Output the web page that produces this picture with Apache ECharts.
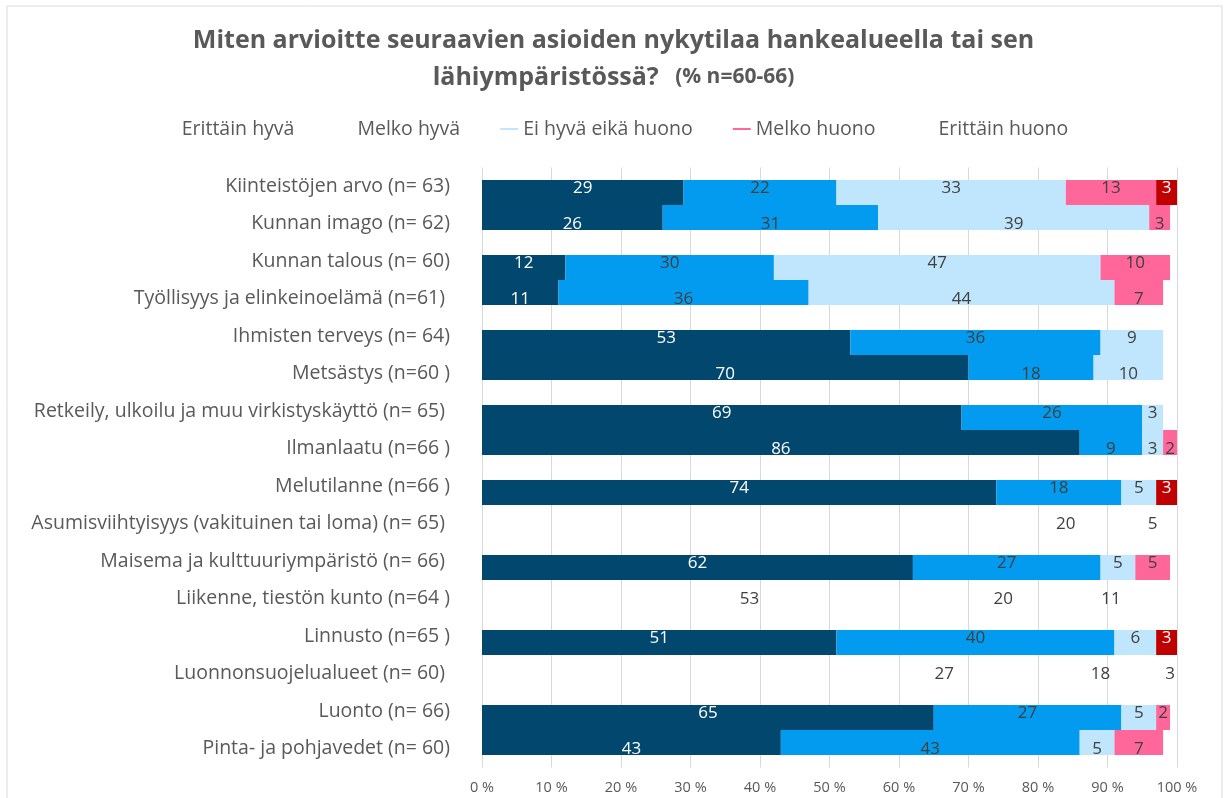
<!DOCTYPE html>
<html>
<head>
<meta charset="utf-8">
<script src="https://cdn.jsdelivr.net/npm/echarts@6/dist/echarts.min.js"></script>
<style>
html, body { margin: 0; padding: 0; background: #fff; }
#chart { width: 1227px; height: 798px; }
</style>
</head>
<body>
<div id="chart"></div>
<script>
'use strict'

var categories = [
	'Kiinteistöjen arvo (n= 63)',
	'Kunnan imago (n= 62)',
	'Kunnan talous (n= 60)',
	'Työllisyys ja elinkeinoelämä (n=61) ',
	'Ihmisten terveys (n= 64)',
	'Metsästys (n=60 )',
	'Retkeily, ulkoilu ja muu virkistyskäyttö (n= 65) ',
	'Ilmanlaatu (n=66 )',
	'Melutilanne (n=66 )',
	'Asumisviihtyisyys (vakituinen tai loma) (n= 65) ',
	'Maisema ja kulttuuriympäristö (n= 66) ',
	'Liikenne, tiestön kunto (n=64 )',
	'Linnusto (n=65 )',
	'Luonnonsuojelualueet (n= 60) ',
	'Luonto (n= 66)',
	'Pinta- ja pohjavedet (n= 60)'
]
var levels = ['Erittäin hyvä', 'Melko hyvä', 'Ei hyvä eikä huono', 'Melko huono', 'Erittäin huono']

var erittainHyva    = [29, 26, 12, 11, 53, 70, 69, 86, 74, 74, 62, 12, 51, 53, 65, 43]
var melkoHyva       = [22, 31, 30, 36, 36, 18, 26, 9, 18, 20, 27, 53, 40, 27, 27, 43]
var eiHyvaEikaHuono = [33, 39, 47, 44, 9, 10, 3, 3, 5, 5, 5, 20, 6, 18, 5, 5]
var melkoHuono      = [13, 3, 10, 7, null, null, null, 2, null, null, 5, 11, null, 3, 2, 7]
var erittainHuono   = [3, null, null, null, null, null, null, null, 3, null, null, null, 3, null, null, null]

// rows that show only their numbers, no bar (as in the original picture)
var ghostRows = [9, 11, 13]

var xMin = 0, xMax = 100, xStep = 10

var values = [erittainHyva, melkoHyva, eiHyvaEikaHuono, melkoHuono, erittainHuono]
var colors = ['#01476E', '#029BEF', '#BFE6FC', '#FF6699', '#C00000']
var labelColors = ['#ffffff', '#404040', '#404040', '#404040', '#ffffff']
var hiddenIcons = [0, 1, 4]

// two rows share one slot: upper bar + lower bar
var pairs = categories.filter(function(c, i){ return i % 2 === 0 })

var series = []
levels.forEach(function(name, li){
	['upper', 'lower'].forEach(function(stack, half){
		var data = values[li].filter(function(v, i){ return i % 2 === half }).map(function(v, k){
			var row = k * 2 + half
			if (ghostRows.indexOf(row) >= 0) {
				return { value: v, itemStyle: { color: 'rgba(0,0,0,0)' } }
			}
			return v
		})
		series.push({
			name: name,
			type: 'bar',
			stack: stack,
			yAxisIndex: 0,
			barWidth: 25,
			barGap: '0%',
			itemStyle: { color: colors[li] },
			label: {
				show: true,
				position: 'inside',
				color: labelColors[li],
				fontSize: 17,
				fontFamily: 'Open Sans',
				offset: [0, half ? 7 : -4],
				formatter: function(p){ return p.value == null ? '' : p.value }
			},
			data: data
		})
	})
})

var myChart = echarts.init(document.getElementById('chart'))
var option = {
	animation: false,
	title: {
		text: '{a|Miten arvioitte seuraavien asioiden nykytilaa hankealueella tai sen}\n{a|lähiympäristössä?}{b|   (% n=60-66)}',
		left: 'center',
		top: 17,
		textStyle: {
			rich: {
				a: { fontSize: 25, fontWeight: 'bold', color: '#595959', fontFamily: 'Open Sans', lineHeight: 37 },
				b: { fontSize: 21, color: '#595959', fontFamily: 'Open Sans', lineHeight: 37 }
			}
		}
	},
	legend: {
		top: 114,
		left: 'center',
		icon: 'rect',
		itemWidth: 18,
		itemHeight: 2,
		itemGap: 40,
		textStyle: { fontSize: 19.5, color: '#595959', fontFamily: 'Open Sans' },
		data: levels.map(function(n, i){
			var item = { name: n }
			if (hiddenIcons.indexOf(i) >= 0) item.itemStyle = { color: 'rgba(0,0,0,0)' }
			return item
		})
	},
	grid: { left: 482, right: 50, top: 167.5, height: 600, containLabel: false },
	xAxis: {
		type: 'value',
		min: xMin,
		max: xMax,
		interval: xStep,
		axisLine: { show: false },
		axisTick: { show: false },
		splitLine: { lineStyle: { color: '#d9d9d9' } },
		axisLabel: { formatter: '{value} %', color: '#595959', fontSize: 14.5, fontFamily: 'Open Sans', margin: 13 }
	},
	yAxis: [
		{ type: 'category', data: pairs, inverse: true, show: false },
		{
			type: 'category',
			data: categories,
			inverse: true,
			position: 'left',
			axisLine: { show: false },
			axisTick: { show: false },
			axisLabel: { margin: 32, fontSize: 19.5, color: '#595959', fontFamily: 'Open Sans' }
		}
	],
	graphic: [{
		type: 'rect',
		silent: true,
		z: -10,
		shape: { x: 7, y: 6, width: 1215, height: 800 },
		style: { fill: 'none', stroke: '#d9d9d9', lineWidth: 1 }
	}],
	series: series
}
myChart.setOption(option)
window.onresize = myChart.resize
</script>
</body>
</html>
